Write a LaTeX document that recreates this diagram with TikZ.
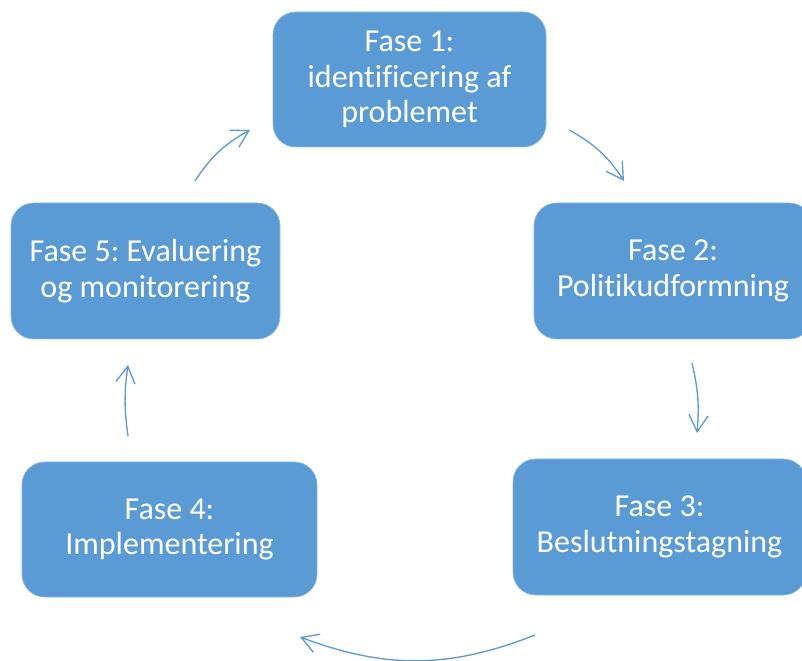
\documentclass[tikz,border=0pt]{standalone}
\usepackage{fontspec}
\setmainfont[Ligatures=CommonOff]{Carlito}
\usepackage{tikz}
\usetikzlibrary{arrows.meta}
\definecolor{fasebla}{HTML}{5B9BD5}
\frenchspacing

\begin{document}
\begin{tikzpicture}[x=0.75pt,y=0.75pt]
\tikzstyle{fase}=[fill=fasebla,draw=fasebla!70!white,line width=0.5pt,rounded corners=17pt,text=white,align=center,inner sep=0pt,font=\fontsize{24}{26.6}\selectfont]
\tikzstyle{pil}=[draw=fasebla,line width=1pt,-{Straight Barb[length=12.5pt,width=14.5pt]}]
\useasboundingbox (0,0) rectangle (802,660);
% faser
\node[fase,minimum width=204.75pt,minimum height=101.25pt] (f1) at (409.5,580.5) {Fase 1:\\identificering af\\problemet};
\node[fase,minimum width=208.5pt,minimum height=102pt] (f2) at (673,389) {Fase 2:\\Politikudformning};
\node[fase,minimum width=219.75pt,minimum height=102pt] (f3) at (659.5,133) {Fase 3:\\Beslutningstagning};
\node[fase,minimum width=221.25pt,minimum height=101.25pt] (f4) at (169.5,130.5) {Fase 4:\\Implementering};
\node[fase,minimum width=201.75pt,minimum height=102pt] (f5) at (145.5,389) {Fase 5: Evaluering\\og monitorering};
% pile
\coordinate (p1a) at (569,530);
\coordinate (p1b) at (624,479);
\coordinate (p2a) at (692,297);
\coordinate (p2b) at (697,227);
\coordinate (p3a) at (535,25);
\coordinate (p3b) at (300,23);
\coordinate (p4a) at (128,224);
\coordinate (p4b) at (128,295);
\coordinate (p5a) at (195,479);
\coordinate (p5b) at (250,530);
\draw[pil] (p1a) to[bend left=14] (p1b);
\draw[pil] (p2a) to[bend left=9] (p2b);
\draw[pil] (p3a) to[bend left=21] (p3b);
\draw[pil] (p4a) to[bend left=8] (p4b);
\draw[pil] (p5a) to[bend left=14] (p5b);
\end{tikzpicture}
\end{document}
